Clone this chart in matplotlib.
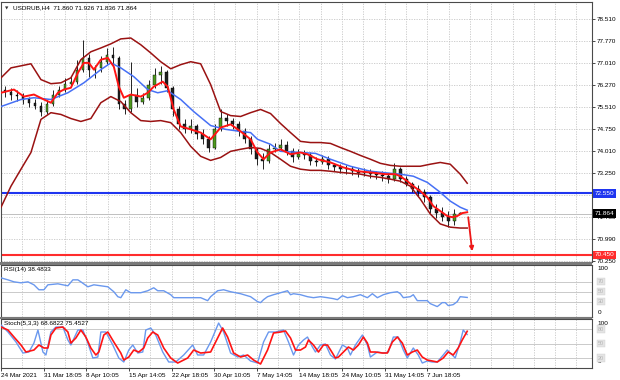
import numpy as np
import matplotlib.pyplot as plt
from matplotlib.patches import Rectangle
from matplotlib.transforms import blended_transform_factory

plt.rcParams['font.family'] = ['Liberation Sans', 'DejaVu Sans']

# ---- data (USDRUB, H4) ----
chart_title = "USDRUB,H4  71.860 71.926 71.836 71.864"
date_labels = ["24 Mar 2021", "31 Mar 18:05", "8 Apr 10:05", "15 Apr 14:05",
               "22 Apr 18:05", "30 Apr 10:05", "7 May 14:05", "14 May 18:05",
               "24 May 10:05", "31 May 14:05", "7 Jun 18:05"]
price_ticks = [78.51, 77.77, 77.01, 76.27, 75.51, 74.75, 74.01, 73.25,
               72.49, 71.73, 70.99, 70.25]

candle_open = [76.10, 76.03, 75.93, 75.89, 75.76, 75.65, 75.55, 75.35, 75.62, 75.93,
               76.10, 76.30, 76.37, 76.78, 77.18, 76.78, 76.84, 77.05, 77.29, 77.18,
               75.59, 75.42, 75.93, 75.69, 75.82, 76.27, 76.61, 76.71, 76.16, 75.42,
               74.91, 74.74, 74.84, 74.57, 74.40, 74.12, 74.74, 75.14, 75.01, 74.91,
               74.67, 74.40, 74.06, 73.72, 73.65, 74.06, 74.12, 74.19, 73.99, 73.78,
               73.89, 73.85, 73.65, 73.61, 73.72, 73.51, 73.44, 73.38, 73.38, 73.31,
               73.24, 73.27, 73.21, 73.17, 73.14, 73.04, 73.38, 73.04, 72.87, 72.70,
               72.59, 72.42, 72.02, 71.88, 71.74, 71.61, 71.860]
candle_high = [76.23, 76.16, 76.10, 75.99, 75.86, 75.79, 75.69, 75.76, 76.10, 76.23,
               76.50, 76.57, 77.12, 77.80, 77.32, 76.95, 77.25, 77.52, 77.56, 77.25,
               75.76, 77.05, 76.16, 75.99, 76.44, 76.84, 76.91, 76.78, 76.23, 75.55,
               75.08, 75.08, 74.94, 74.74, 74.53, 74.91, 75.42, 75.28, 75.14, 75.01,
               74.80, 74.50, 74.12, 73.92, 74.23, 74.29, 74.40, 74.33, 74.09, 74.06,
               74.02, 73.95, 73.78, 73.85, 73.82, 73.58, 73.55, 73.51, 73.48, 73.41,
               73.41, 73.38, 73.31, 73.31, 73.24, 73.58, 73.44, 73.14, 72.93, 72.83,
               72.70, 72.49, 72.19, 72.08, 71.95, 72.02, 71.926]
candle_low = [75.86, 75.76, 75.72, 75.62, 75.52, 75.45, 75.18, 75.28, 75.55, 75.86,
              76.03, 76.20, 76.30, 76.71, 76.54, 76.50, 76.71, 76.98, 76.91, 75.42,
              75.28, 75.35, 75.52, 75.62, 75.76, 76.16, 76.30, 76.03, 75.21, 74.74,
              74.63, 74.63, 74.40, 74.23, 73.95, 74.06, 74.67, 74.87, 74.74, 74.53,
              74.26, 73.89, 73.51, 73.38, 73.58, 73.95, 74.02, 73.85, 73.61, 73.72,
              73.72, 73.51, 73.48, 73.55, 73.38, 73.31, 73.24, 73.21, 73.17, 73.10,
              73.14, 73.07, 73.04, 72.97, 72.90, 72.97, 72.93, 72.80, 72.59, 72.46,
              72.25, 71.88, 71.71, 71.61, 71.40, 71.47, 71.836]
candle_close = [76.03, 75.93, 75.89, 75.76, 75.65, 75.55, 75.35, 75.62, 75.93, 76.10,
                76.30, 76.37, 76.78, 77.18, 76.78, 76.84, 77.05, 77.29, 77.18, 75.59,
                75.42, 75.93, 75.69, 75.82, 76.27, 76.61, 76.71, 76.16, 75.42, 74.91,
                74.74, 74.84, 74.57, 74.40, 74.12, 74.74, 75.14, 75.01, 74.91, 74.67,
                74.40, 74.06, 73.72, 73.65, 74.06, 74.12, 74.19, 73.99, 73.78, 73.89,
                73.85, 73.65, 73.61, 73.72, 73.51, 73.44, 73.38, 73.38, 73.31, 73.24,
                73.27, 73.21, 73.17, 73.14, 73.04, 73.38, 73.04, 72.87, 72.70, 72.59,
                72.42, 72.02, 71.88, 71.74, 71.61, 71.85, 71.864]

band_bars = list(range(0, 231, 5)) + [233.5]
upper_band = [76.50, 76.84, 76.91, 76.98, 76.44, 76.30, 76.33, 76.50, 77.12, 77.39,
              77.52, 77.66, 77.83, 77.86, 77.63, 77.35, 77.05, 76.81, 76.95, 77.05,
              76.98, 76.27, 75.35, 75.21, 75.18, 75.31, 75.42, 75.28, 74.94, 74.63,
              74.33, 74.29, 74.29, 74.26, 74.12, 73.99, 73.85, 73.72, 73.58, 73.51,
              73.48, 73.48, 73.48, 73.55, 73.61, 73.55, 73.21, 72.90]
lower_band = [72.08, 72.80, 73.38, 73.95, 75.08, 75.31, 75.25, 75.11, 75.01, 75.11,
              75.65, 75.86, 75.69, 75.31, 75.04, 75.01, 75.04, 74.97, 74.63, 74.16,
              73.82, 73.68, 73.78, 73.99, 74.06, 74.12, 74.09, 73.95, 73.72, 73.48,
              73.38, 73.34, 73.34, 73.31, 73.27, 73.24, 73.21, 73.14, 73.10, 73.04,
              72.97, 72.80, 72.36, 71.85, 71.51, 71.40, 71.37, 71.37]

fast_bars = [0, 6.5, 11.5, 16.5, 21.5, 25, 28.5, 31.5, 35, 38.5, 41.5, 44, 46.5, 50,
             53.5, 56.5, 59, 61.5, 65, 70, 73.5, 76.5, 81, 83.5, 86.5, 90, 95, 100,
             105, 110, 115, 120, 125, 128.5, 131.5, 135, 140, 145, 150, 153.5, 158.5,
             165, 171.5, 178.5, 185, 192.5, 197.5, 200, 203.5, 206.5, 210, 213.5,
             216.5, 220, 223.5, 226, 228.5, 231, 233.5]
fast_ma = [75.99, 76.10, 75.86, 75.93, 75.76, 75.65, 75.99, 76.10, 76.16, 76.67,
           77.01, 77.01, 76.78, 77.12, 77.18, 76.88, 76.20, 75.82, 75.93, 75.86,
           75.99, 76.20, 76.37, 76.20, 75.42, 74.84, 74.74, 74.63, 74.40, 74.80,
           74.91, 74.67, 74.40, 73.95, 73.72, 73.95, 74.06, 73.89, 73.95, 73.89,
           73.72, 73.61, 73.44, 73.31, 73.27, 73.21, 73.21, 73.14, 72.97, 72.80,
           72.63, 72.42, 72.12, 71.95, 71.78, 71.74, 71.78, 71.88, 71.91]

slow_bars = [0, 10, 16.5, 25, 33.5, 41.5, 50, 55, 60, 66.5, 73.5, 78.5, 83.5, 90,
             96.5, 105, 112.5, 120, 125, 128.5, 135, 140, 150, 157.5, 165, 175, 185,
             195, 200, 206.5, 213.5, 220, 225, 230, 233.5]
slow_ma = [75.52, 75.76, 75.82, 75.76, 75.99, 76.33, 76.78, 77.01, 76.84, 76.54,
           76.10, 75.99, 76.06, 75.76, 75.35, 74.87, 74.74, 74.67, 74.63, 74.40,
           74.23, 73.99, 73.95, 73.92, 73.72, 73.48, 73.31, 73.24, 73.21, 73.14,
           72.93, 72.59, 72.29, 72.08, 71.98]

resistance_level = 72.55
target_level = 70.45
last_price = 71.864

rsi_bars = [0, 3.5, 6.5, 10, 13.5, 16.5, 19, 21.5, 23.5, 28.5, 33.5, 36, 38.5, 40,
            43.5, 46.5, 50, 53.5, 56.5, 58.5, 60, 62.5, 65, 70, 73.5, 76.5, 78.5,
            81.5, 85, 86.5, 90, 93.5, 100, 103.5, 105, 108.5, 111.5, 115, 120, 125,
            128.5, 130, 131.5, 133.5, 136.5, 140, 143.5, 145, 146.5, 150, 153.5,
            156.5, 160, 163.5, 166.5, 168.5, 171, 173.5, 176.5, 180, 183.5, 186,
            188.5, 191.5, 195, 198.5, 200, 201.5, 205, 206.5, 208.5, 213.5, 215,
            218.5, 221, 222.5, 224, 226.5, 228.5, 230, 233.5]
rsi_values = [78, 74, 70, 68, 70, 64, 54, 54, 64, 66, 62, 74, 74, 70, 60, 64, 62, 60,
              50, 40, 38, 54, 48, 48, 52, 58, 52, 52, 44, 38, 38, 38, 38, 32, 40, 52,
              54, 50, 46, 40, 30, 28, 34, 40, 44, 48, 52, 44, 46, 44, 40, 38, 40, 38,
              36, 34, 42, 38, 40, 44, 38, 46, 38, 44, 48, 50, 46, 38, 40, 44, 32, 32,
              26, 20, 28, 28, 22, 24, 30, 40, 38.48]

stoch_main_bars = [0, 3.5, 7.5, 11, 14, 16.5, 18.5, 21, 22.5, 25, 27.5, 31, 33.5, 35,
                   38.5, 41, 43.5, 46, 48.5, 50, 52.5, 56, 59, 61.5, 64, 66, 68.5, 71,
                   72.5, 75, 77.5, 81, 84, 87.5, 91.5, 96, 98.5, 101.5, 105, 109,
                   111.5, 115, 118.5, 121.5, 125, 128.5, 131.5, 134, 137.5, 141.5, 144,
                   146.5, 149, 151.5, 153.5, 156, 157.5, 160, 162.5, 165, 167.5, 171,
                   173.5, 175, 177.5, 181, 183.5, 185, 188.5, 191.5, 194, 196.5, 199,
                   201.5, 203.5, 206.5, 209, 211, 213.5, 216, 218.5, 221.5, 223.5, 226,
                   227.5, 230, 231.5, 233.5]
stoch_main = [88.4, 73.9, 53.2, 30.4, 32.5, 51.1, 78.0, 32.5, 26.3, 73.9,
              84.2, 84.2, 57.3, 47.0, 78.0, 78.0, 51.1, 20.1, 22.1, 73.9,
              73.9, 47.0, 20.1, 11.8, 36.6, 47.0, 30.4, 32.5, 78.0, 82.2,
              67.7, 32.5, 11.8, 11.8, 26.3, 47.0, 26.3, 26.3, 53.2, 92.5,
              73.9, 30.4, 22.1, 26.3, 13.9, 9.7, 53.2, 73.9, 73.9, 78.0,
              53.2, 26.3, 47.0, 57.3, 63.5, 42.8, 32.5, 47.0, 49.1, 26.3,
              18.0, 47.0, 40.8, 26.3, 47.0, 67.7, 47.0, 22.1, 32.5, 30.4,
              32.5, 63.5, 63.5, 36.6, 20.1, 40.8, 26.3, 9.7, 13.9, 11.8,
              11.8, 26.3, 36.6, 26.3, 20.1, 53.2, 78.0, 68.68]
stoch_signal_bars = [0, 3.5, 6.5, 10, 12.5, 16.5, 19, 21.5, 23.5, 25, 27.5, 31, 33.5,
                     35, 37.5, 40, 42.5, 45, 47.5, 49, 51.5, 53.5, 56.5, 60, 61.5, 64,
                     66.5, 69, 71.5, 73.5, 76, 78.5, 81.5, 85, 88.5, 93.5, 96.5, 100,
                     105, 108.5, 111, 113.5, 116.5, 120, 123.5, 126.5, 130, 133.5,
                     136.5, 140, 142.5, 145, 147.5, 150, 152.5, 154, 156.5, 159, 161.5,
                     163.5, 166, 167.5, 169, 171.5, 174, 176.5, 179, 181.5, 183.5, 185,
                     187.5, 191, 193.5, 196, 198.5, 201, 203.5, 206, 208.5, 211, 213.5,
                     216, 218.5, 221.5, 224, 226.5, 229, 231, 233.5]
stoch_signal = [84.2, 78.0, 63.5, 47.0, 32.5, 36.6, 47.0, 40.8, 40.8, 67.7,
                82.2, 84.2, 73.9, 51.1, 61.5, 78.0, 63.5, 40.8, 26.3, 32.5,
                67.7, 73.9, 53.2, 30.4, 15.9, 22.1, 36.6, 32.5, 40.8, 61.5,
                73.9, 67.7, 40.8, 20.1, 9.7, 20.1, 36.6, 30.4, 32.5, 61.5,
                82.2, 63.5, 30.4, 22.1, 26.3, 15.9, 7.7, 36.6, 71.8, 73.9,
                76.0, 61.5, 36.6, 36.6, 42.8, 57.3, 47.0, 32.5, 47.0, 47.0,
                30.4, 20.1, 22.1, 32.5, 42.8, 36.6, 47.0, 63.5, 51.1, 32.5,
                32.5, 30.4, 30.4, 53.2, 63.5, 51.1, 26.3, 32.5, 36.6, 22.1,
                15.9, 13.9, 11.8, 20.1, 32.5, 26.3, 40.8, 57.3, 75.45]

# ---- layout ----
W, H = 620, 380
fig = plt.figure(figsize=(6.2, 3.8), dpi=100)

def box(top, bottom):
    return [1 / W, 1 - bottom / H, 591 / W, (bottom - top) / H]

ax = fig.add_axes(box(2, 262))
ax_rsi = fig.add_axes(box(265, 316.5), sharex=ax)
ax_st = fig.add_axes(box(319, 368), sharex=ax)

label_step = 21.35
label_pos = [i * label_step for i in range(len(date_labels))]
grid_pos = [i * label_step / 2 for i in range(28)]
grid_kw = dict(color='#c6c6c6', linestyle=(0, (1.5, 1.5)), linewidth=0.6, zorder=0)
fs = 4.6

for a in (ax, ax_rsi, ax_st):
    for s in a.spines.values():
        s.set_color('#4a4a4a')
        s.set_linewidth(0.8)
    for gx in grid_pos:
        a.axvline(gx, **grid_kw)
    a.set_xlim(0, 296)

# ---- main price panel ----
for p in price_ticks:
    ax.axhline(p, **grid_kw)

n = len(candle_close)
cx = 2 + 3 * np.arange(n)
o = np.array(candle_open)
c = np.array(candle_close)
ax.vlines(cx, candle_low, candle_high, color='black', linewidth=0.6, zorder=3)
up = c >= o
body_lo = np.minimum(o, c)
body_h = np.maximum(np.abs(c - o), 0.02)
ax.bar(cx[up], body_h[up], bottom=body_lo[up], width=1.3, color='#4f9a1f',
       edgecolor='black', linewidth=0.3, zorder=4)
ax.bar(cx[~up], body_h[~up], bottom=body_lo[~up], width=1.3, color='#202020',
       edgecolor='black', linewidth=0.3, zorder=4)

ax.plot(band_bars, upper_band, color='#9a1212', linewidth=1.1, zorder=5)
ax.plot(band_bars, lower_band, color='#9a1212', linewidth=1.1, zorder=5)
ax.plot(slow_bars, slow_ma, color='#4670f5', linewidth=1.1, zorder=6)
ax.plot(fast_bars, fast_ma, color='#ff1414', linewidth=1.4, zorder=7)

ax.axhline(last_price, color='#c0c0c0', linewidth=0.7, zorder=1)
ax.axhline(resistance_level, color='#1f35f0', linewidth=1.5, zorder=2)
ax.axhline(target_level, color='#ff2c2c', linewidth=1.5, zorder=2)

ax.annotate('', xy=(236, 70.58), xytext=(234, 71.74),
            arrowprops=dict(arrowstyle='-|>', color='#ee1818', lw=1.3,
                            mutation_scale=6, shrinkA=0, shrinkB=0), zorder=8)

ax.set_ylim(70.21, 79.09)
ax.yaxis.tick_right()
ax.set_yticks(price_ticks)
# the 72.490 label sits under the 72.550 line label, as in the terminal
ax.set_yticklabels(['' if p == 72.49 else f'{p:.3f}' for p in price_ticks])
ax.tick_params(axis='y', length=2, width=0.5, pad=1.5, labelsize=fs, colors='black')
ax.tick_params(axis='x', length=0, labelbottom=False)

tr = blended_transform_factory(ax.transAxes, ax.transData)
for val, txt, bg in [(resistance_level, '72.550', '#1f35f0'),
                     (last_price, '71.864', '#000000'),
                     (target_level, '70.450', '#ff2c2c')]:
    ax.text(1.004, val, txt, transform=tr, fontsize=fs, color='white', ha='left',
            va='center', clip_on=False, zorder=20,
            bbox=dict(boxstyle='square,pad=0.25', fc=bg, ec='none'))

ax.text(0.006, 0.983, '\u25bc', transform=ax.transAxes, fontsize=3.2,
        family=['DejaVu Sans'], va='top', ha='left', color='#303030')
ax.text(0.021, 0.988, chart_title, transform=ax.transAxes, fontsize=fs,
        va='top', ha='left', color='black')

# ---- RSI panel ----
for lv in (70, 50, 30):
    ax_rsi.axhline(lv, color='#cacaca', linewidth=0.7, zorder=1)
ax_rsi.plot(rsi_bars, rsi_values, color='#6a98ee', linewidth=1.0, zorder=5)
ax_rsi.set_ylim(0, 104)
ax_rsi.set_yticks([])
ax_rsi.tick_params(axis='x', length=0, labelbottom=False)
ax_rsi.text(0.005, 0.96, 'RSI(14) 38.4833', transform=ax_rsi.transAxes,
            fontsize=fs, va='top', ha='left')

# ---- Stochastic panel ----
for lv in (80, 50, 20):
    ax_st.axhline(lv, color='#cacaca', linewidth=0.7, zorder=1)
ax_st.plot(stoch_main_bars, stoch_main, color='#6a98ee', linewidth=1.0, zorder=5)
ax_st.plot(stoch_signal_bars, stoch_signal, color='#ff1414', linewidth=1.2, zorder=6)
ax_st.set_ylim(-0.6, 100.8)
ax_st.set_yticks([])
ax_st.text(0.005, 0.96, 'Stoch(5,3,3) 68.6822 75.4527', transform=ax_st.transAxes,
           fontsize=fs, va='top', ha='left')

ax_st.set_xticks(label_pos)
ax_st.set_xticklabels(date_labels, ha='left')
ax_st.tick_params(axis='x', length=2, width=0.5, pad=1.5, labelsize=fs,
                  direction='out')

# right-hand labels of the indicator windows
for a, top_v, bot_v, levels in [(ax_rsi, 96, 8, (70, 50, 30)),
                                (ax_st, 92, 12, (80, 50, 20))]:
    t = blended_transform_factory(a.transAxes, a.transData)
    a.text(1.01, top_v, '100', transform=t, fontsize=fs, va='center', ha='left',
           clip_on=False)
    a.text(1.01, bot_v, '0', transform=t, fontsize=fs, va='center', ha='left',
           clip_on=False)
    for lv in levels:
        a.text(1.01, lv, str(lv), transform=t, fontsize=fs - 0.6, color='#b4b4b4',
               va='center', ha='left', clip_on=False,
               bbox=dict(boxstyle='square,pad=0.2', fc='#e4e4e4', ec='#d0d0d0',
                         lw=0.3))

# window separators
for y0, y1 in [(262, 265), (316.5, 319)]:
    fig.add_artist(Rectangle((0, 1 - y1 / H), 592 / W, (y1 - y0) / H,
                             transform=fig.transFigure, color='#7a7a7a', lw=0))

fig.savefig('out.png', dpi=100)
